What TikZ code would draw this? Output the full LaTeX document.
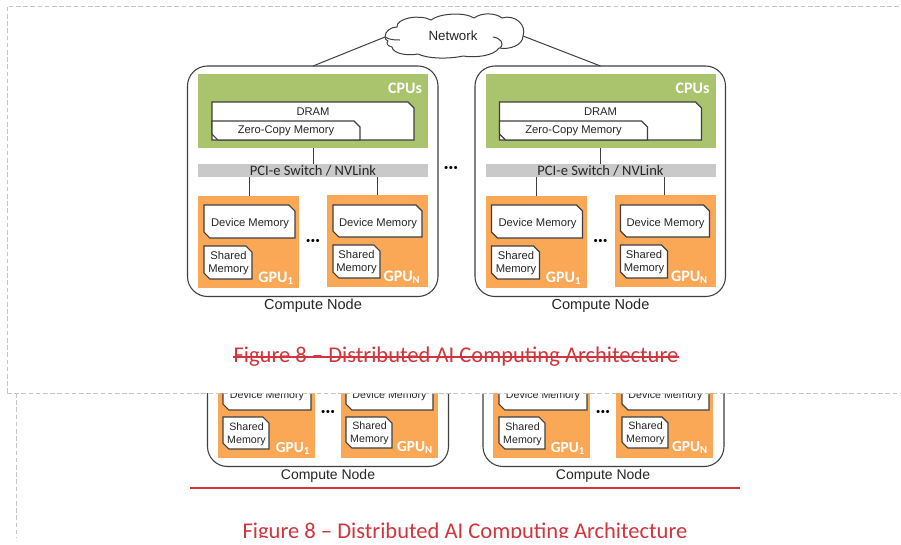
\documentclass[tikz,border=0pt]{standalone}
\usepackage{fontspec}
\setmainfont{Liberation Sans}
\newfontfamily\calfont{Carlito}
\usetikzlibrary{calc}
\definecolor{cpugreen}{HTML}{A9C46C}
\definecolor{gpuorange}{HTML}{FAA756}
\definecolor{swgray}{HTML}{C9C9C9}
\definecolor{capred}{HTML}{D2343C}
\definecolor{edgegray}{HTML}{3F3F3F}
\definecolor{dashgray}{HTML}{C4C4C4}
\definecolor{txt}{HTML}{262626}
\tikzset{
  x=0.75pt,y=-0.75pt,
  nodebox/.style={draw=edgegray,line width=0.8pt,fill=white,rounded corners=15pt},
  link/.style={draw=edgegray,line width=0.75pt},
  mem/.style={draw=edgegray,line width=0.8pt,fill=white,line join=miter},
  dashline/.style={draw=dashgray,line width=0.7pt,dash pattern=on 3.4pt off 2pt},
  lab/.style={inner sep=0pt,text=txt,font=\fontsize{8.4}{9.8}\selectfont,align=center},
  smlab/.style={inner sep=0pt,text=txt,font=\fontsize{8}{9.6}\selectfont,align=center},
  wlab/.style={inner sep=0pt,text=white,font=\calfont\bfseries\fontsize{12}{14}\selectfont},
  wsmlab/.style={inner sep=0pt,text=white,font=\calfont\bfseries\fontsize{11.5}{13}\selectfont},
  swlab/.style={inner sep=0pt,text=txt,font=\calfont\fontsize{10.9}{12}\selectfont},
  captext/.style={inner sep=0pt,text=capred,font=\calfont\fontsize{16.9}{19}\selectfont},
  dotlab/.style={inner sep=0pt,text=black,font=\bfseries\fontsize{8}{9}\selectfont},
  nodelab/.style={inner sep=0pt,text=txt,font=\fontsize{10.9}{12}\selectfont},
  lownodelab/.style={inner sep=0pt,text=txt,font=\fontsize{10.5}{12}\selectfont},
}
\newcommand{\memshape}[4]{(#1,#2) -- (#3-6,#2) -- (#3,#2+6) -- (#3,#4) -- (#1+6,#4) -- (#1,#4-6) -- cycle}
\newcommand{\threedots}{\textbullet\hspace{0.7pt}\textbullet\hspace{0.7pt}\textbullet}
\begin{document}
\begin{tikzpicture}
\useasboundingbox (0,0) rectangle (901,544);
\fill[white] (0,0) rectangle (901,544);
% ---- lower, covered figure
\begin{scope}
\clip (0,393) rectangle (901,537);
\draw[dashline] (16,393) -- (16,544);
\draw[nodebox] (207.5,340) rectangle (448.5,466.5);
\draw[nodebox] (483,340) rectangle (724,466.5);
\fill[gpuorange] (218,350) rectangle (315,458);
\fill[gpuorange] (341,350) rectangle (438,458);
\fill[gpuorange] (493,350) rectangle (590,458);
\fill[gpuorange] (616,350) rectangle (713,458);
\draw[mem] \memshape{223}{377}{311}{410};
\draw[mem] \memshape{346}{377}{433}{410};
\draw[mem] \memshape{499}{377}{587}{410};
\draw[mem] \memshape{622}{377}{709}{410};
\node[smlab] (ld1) at (267,396) {Device Memory};
\node[smlab] (ld2) at (389.5,396) {Device Memory};
\node[smlab] (ld3) at (543,396) {Device Memory};
\node[smlab] (ld4) at (665.5,396) {Device Memory};
\draw[mem] \memshape{223}{417}{269}{449};
\draw[mem] \memshape{346}{417}{392}{448};
\draw[mem] \memshape{499}{417}{545}{449};
\draw[mem] \memshape{622}{417}{668}{448};
\node[smlab] (ls1) at (246.5,434) {Shared\\Memory};
\node[smlab] (ls2) at (369.5,433) {Shared\\Memory};
\node[smlab] (ls3) at (522.5,434) {Shared\\Memory};
\node[smlab] (ls4) at (645.5,433) {Shared\\Memory};
\node[wsmlab] (lg1) at (293,448.5) {GPU\textsubscript{1}};
\node[wsmlab] (lg2) at (415,447.5) {GPU\textsubscript{N}};
\node[wsmlab] (lg3) at (568,448.5) {GPU\textsubscript{1}};
\node[wsmlab] (lg4) at (690,447.5) {GPU\textsubscript{N}};
\node[dotlab] (ldot1) at (328,413) {\threedots};
\node[dotlab] (ldot2) at (603,413) {\threedots};
\node[lownodelab] (lc1) at (328,475.5) {Compute Node};
\node[lownodelab] (lc2) at (603,475.5) {Compute Node};
\draw[capred,line width=1pt] (190,488) -- (740,488);
\node[captext] (lcap) at (465,532.5) {Figure 8 – Distributed AI Computing Architecture};
\end{scope}
% ---- upper overlay
\draw[dashline] (7,393) -- (7,6) -- (901,6);
\draw[dashline] (7,393) -- (901,393);
% cloud
\coordinate (netw) at (385,37);
\coordinate (nete) at (523,36);
\draw[link,fill=white,line join=round] (netw)
 .. controls (385,31) and (391,27) .. (397,27)
 .. controls (396,18) and (420,14) .. (431,20)
 .. controls (440,13) and (465,12) .. (474,18)
 .. controls (482,12) and (496,13) .. (502,18)
 .. controls (515,14) and (527,25) .. (nete)
 .. controls (523,45) and (510,50) .. (499,48)
 .. controls (494,56) and (475,58) .. (463,56)
 .. controls (450,59) and (428,59) .. (418,54)
 .. controls (408,56) and (393,54) .. (392,47)
 .. controls (387,46) and (386,43) .. (388,41)
 .. controls (386,40) and (385,39) .. (netw) -- cycle;
\draw[link] (netw) .. controls (390,40) and (395,40) .. (400,40);
\draw[link] (493,37) .. controls (500,38) and (505,43) .. (500,48);
\node[lab,font=\fontsize{10}{11}\selectfont] (netlab) at (453,36) {Network};
\foreach \ox/\p in {0/a,287.5/b}{
\begin{scope}[xshift=\ox*0.75pt]
\draw[nodebox] (187.5,66) rectangle (438,296.5);
\coordinate (top\p) at (313,66);
\fill[cpugreen] (198,74) rectangle (428,148);
\node[wlab] (cpu\p) at (405,88) {CPUs};
\draw[mem] (212,102) -- (408,102) -- (414,108) -- (414,140) -- (212,140) -- cycle;
\node[lab] (dram\p) at (313,112) {DRAM};
\draw[mem] \memshape{212}{121}{360}{140};
\node[lab] (zero\p) at (286,131) {Zero-Copy Memory};
\fill[swgray] (198,163.5) rectangle (428,177);
\coordinate (cpub\p) at (313,148);
\coordinate (swt\p) at (313,163.5);
\draw[link] (cpub\p) -- (swt\p);
\node[swlab] (sw\p) at (313,171) {PCI-e Switch / NVLink};
\fill[gpuorange] (198,196) rectangle (299,288);
\fill[gpuorange] (327,195) rectangle (428,287);
\coordinate (s1\p) at (249,177);
\coordinate (g1\p) at (249,196);
\coordinate (s2\p) at (377,177);
\coordinate (g2\p) at (377,195);
\draw[link] (s1\p) -- (g1\p);
\draw[link] (s2\p) -- (g2\p);
\draw[mem] \memshape{204}{205}{295}{238};
\draw[mem] \memshape{333}{205}{422}{237};
\node[lab] (d1\p) at (250,223.5) {Device Memory};
\node[lab] (d2\p) at (378,223.5) {Device Memory};
\draw[mem] \memshape{204}{246}{252}{279};
\draw[mem] \memshape{333}{245}{380}{278};
\node[lab] (s3\p) at (228.5,263) {Shared\\Memory};
\node[lab] (s4\p) at (356.5,262) {Shared\\Memory};
\node[wlab] (g3\p) at (276,278) {GPU\textsubscript{1}};
\node[wlab] (g4\p) at (402,277.5) {GPU\textsubscript{N}};
\node[dotlab] (dd\p) at (313,241.5) {\threedots};
\node[nodelab] (c\p) at (313,306) {Compute Node};
\end{scope}
}
\node[dotlab] (midd) at (451,168.5) {\threedots};
\draw[link] (topa) -- (netw);
\draw[link] (topb) -- (nete);
\node[captext] (ucap) at (456,356.5) {Figure 8 – Distributed AI Computing Architecture};
\draw[capred,line width=1pt] ($(ucap.west)+(0,0.5)$) -- ($(ucap.east)+(0,0.5)$);
\end{tikzpicture}
\end{document}
